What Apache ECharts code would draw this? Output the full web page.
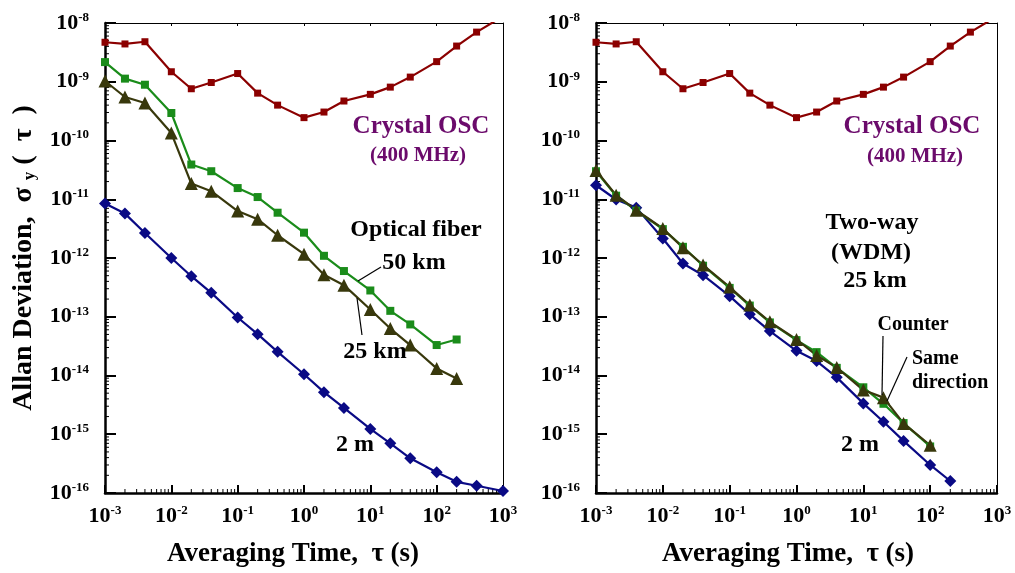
<!DOCTYPE html>
<html>
<head>
<meta charset="utf-8">
<script src="https://cdn.jsdelivr.net/npm/echarts@6/dist/echarts.min.js"></script>
<style>
  html, body { margin: 0; padding: 0; background: #fff; }
  #chart { width: 1015px; height: 573px; }
</style>
</head>
<body>
<div id="chart"></div>
<script>
// averaging times (s)
var tauFull = [1e-3, 2e-3, 4e-3, 1e-2, 2e-2, 4e-2, 0.1, 0.2, 0.4, 1, 2, 4, 10, 20, 40, 100, 200, 400, 1000];
var tau200 = tauFull.slice(0, 17);
var tau100 = tauFull.slice(0, 16);

// crystal oscillator (same on both panels)
var crystal = [4.7e-9, 4.4e-9, 4.8e-9, 1.48e-9, 7.6e-10, 9.7e-10, 1.38e-9, 6.4e-10, 4.0e-10, 2.45e-10,
  3.05e-10, 4.7e-10, 6.1e-10, 8.1e-10, 1.2e-9, 2.2e-9, 4.05e-9, 7.0e-9, 1.3e-8];

// left panel: optical fiber
var fiber50 = [2.16e-9, 1.13e-9, 8.9e-10, 2.94e-10, 3.9e-11, 3.0e-11, 1.55e-11, 1.09e-11, 5.9e-12, 2.7e-12,
  1.09e-12, 6.0e-13, 2.8e-13, 1.26e-13, 7.4e-14, 3.3e-14, 4.1e-14];
var fiber25 = [1.03e-9, 5.5e-10, 4.35e-10, 1.34e-10, 1.85e-11, 1.37e-11, 6.3e-12, 4.57e-12, 2.44e-12, 1.16e-12,
  5.2e-13, 3.45e-13, 1.33e-13, 6.3e-14, 3.3e-14, 1.32e-14, 8.9e-15];
var ref2mL = [8.45e-12, 5.7e-12, 2.67e-12, 1.0e-12, 4.9e-13, 2.55e-13, 9.7e-14, 5.05e-14, 2.53e-14, 1.05e-14,
  5.2e-15, 2.8e-15, 1.23e-15, 7.0e-16, 3.9e-16, 2.25e-16, 1.55e-16, 1.33e-16, 1.08e-16];

// right panel: two-way (WDM) 25 km
var counter = [3.1e-11, 1.17e-11, 6.5e-12, 3.18e-12, 1.5e-12, 7.6e-13, 3.2e-13, 1.58e-13, 8.2e-14, 4.1e-14,
  2.2e-14, 1.37e-14, 5.65e-15, 4.2e-15, 1.53e-15, 6.5e-16];
var sameDir = [3.0e-11, 1.15e-11, 6.4e-12, 3.1e-12, 1.55e-12, 7.4e-13, 3.1e-13, 1.55e-13, 8.0e-14, 4.0e-14,
  2.5e-14, 1.35e-14, 6.3e-15, 3.3e-15, 1.55e-15, 6.2e-16];
var ref2mR = [1.73e-11, 9.9e-12, 7.2e-12, 2.15e-12, 8.05e-13, 5.1e-13, 2.24e-13, 1.1e-13, 5.7e-14, 2.63e-14,
  1.76e-14, 9.3e-15, 3.35e-15, 1.63e-15, 7.7e-16, 3.0e-16, 1.6e-16];

// axis ranges and minor tick positions
var xMin = 1e-3, xMax = 1e3, yMin = 1e-16, yMax = 1e-8;
var minorX = [];
for (var e = -3; e < 3; e++) for (var k = 2; k <= 9; k++) minorX.push(k * Math.pow(10, e));
var minorY = [];
for (var e2 = -16; e2 < -8; e2++) for (var k2 = 2; k2 <= 9; k2++) minorY.push(k2 * Math.pow(10, e2));

var FONT = '"Liberation Serif", "DejaVu Serif", serif';

function pairs(xs, ys) {
  return ys.map(function (v, i) { return [xs[i], v]; });
}

function expLabel(v) {
  var p = Math.round(Math.log10(v));
  return '{b|10}{s|' + p + '}';
}

var labelRich = {
  b: { fontSize: 22, fontWeight: 'bold', fontFamily: FONT, color: '#000', lineHeight: 24 },
  s: { fontSize: 13, fontWeight: 'bold', fontFamily: FONT, color: '#000', verticalAlign: 'top', lineHeight: 12 }
};

function xAx(gi, show) {
  return {
    type: 'log', logBase: 10, gridIndex: gi, min: xMin, max: xMax, splitNumber: 6,
    position: show ? 'bottom' : 'top',
    axisLine: { show: true, onZero: false, lineStyle: { color: '#000', width: show ? 2.5 : 1 } },
    axisTick: { show: true, inside: true, length: show ? 8 : 3, lineStyle: { color: '#000', width: show ? 2 : 1 } },
    axisLabel: { show: show, margin: 11, formatter: expLabel, rich: labelRich },
    splitLine: { show: false }
  };
}

function yAx(gi, show) {
  return {
    type: 'log', logBase: 10, gridIndex: gi, min: yMin, max: yMax, splitNumber: 8,
    position: show ? 'left' : 'right',
    axisLine: { show: true, onZero: false, lineStyle: { color: '#000', width: show ? 2.5 : 1 } },
    axisTick: { show: show, inside: true, length: 11, lineStyle: { color: '#000', width: 2 } },
    axisLabel: { show: show, margin: 16, formatter: expLabel, rich: labelRich },
    splitLine: { show: false }
  };
}

function lineSeries(name, xi, data, color, symbol, size) {
  return {
    name: name, type: 'line', xAxisIndex: xi, yAxisIndex: xi, data: data,
    symbol: symbol, symbolSize: size, showSymbol: true, clip: true,
    lineStyle: { color: color, width: 2.2 }, itemStyle: { color: color },
    silent: true, animation: false, z: 3
  };
}

function minorTickSeries(xi) {
  var data = minorX.map(function (v) { return [v, yMin, 0]; })
    .concat(minorY.map(function (v) { return [xMin, v, 1]; }));
  return {
    type: 'custom', xAxisIndex: xi, yAxisIndex: xi, data: data, silent: true, animation: false, clip: false, z: 2,
    renderItem: function (params, api) {
      var p = api.coord([api.value(0), api.value(1)]);
      var vert = api.value(2) === 0;
      return {
        type: 'line',
        shape: vert ? { x1: p[0], y1: p[1], x2: p[0], y2: p[1] - 4 } : { x1: p[0], y1: p[1], x2: p[0] + 4, y2: p[1] },
        style: { stroke: '#000', lineWidth: 1 }
      };
    }
  };
}

function txt(x, y, s, size, color, align) {
  return {
    type: 'text', x: x, y: y, z: 10,
    style: { text: s, fontSize: size, fontWeight: 'bold', fontFamily: FONT, fill: color || '#000', align: align || 'center', verticalAlign: 'middle' }
  };
}
function seg(x1, y1, x2, y2) {
  return { type: 'line', z: 10, shape: { x1: x1, y1: y1, x2: x2, y2: y2 }, style: { stroke: '#000', lineWidth: 1.2 } };
}

var RED = '#8b0000', GREEN = '#1a8c1a', OLIVE = '#38380c', NAVY = '#0a0a85', PURPLE = '#6b0a6b';

var chart = echarts.init(document.getElementById('chart'), null, { renderer: 'canvas' });
chart.setOption({
  backgroundColor: '#fff',
  animation: false,
  grid: [
    { left: 105, top: 23, width: 398, height: 470 },
    { left: 596, top: 23, width: 401, height: 470 }
  ],
  xAxis: [xAx(0, true), xAx(1, true), xAx(0, false), xAx(1, false)],
  yAxis: [yAx(0, true), yAx(1, true), yAx(0, false), yAx(1, false)],
  series: [
    lineSeries('Crystal OSC', 0, pairs(tauFull, crystal), RED, 'rect', 7),
    lineSeries('50 km', 0, pairs(tau200, fiber50), GREEN, 'rect', 8),
    lineSeries('25 km', 0, pairs(tau200, fiber25), OLIVE, 'triangle', 13),
    lineSeries('2 m', 0, pairs(tauFull, ref2mL), NAVY, 'diamond', 12),
    minorTickSeries(0),
    lineSeries('Crystal OSC', 1, pairs(tauFull, crystal), RED, 'rect', 7),
    lineSeries('2 m', 1, pairs(tau200, ref2mR), NAVY, 'diamond', 12),
    lineSeries('Same direction', 1, pairs(tau100, sameDir), GREEN, 'rect', 8),
    lineSeries('Counter', 1, pairs(tau100, counter), OLIVE, 'triangle', 13),
    minorTickSeries(1)
  ],
  graphic: [
    // axis titles
    {
      type: 'text', x: 24, y: 258, rotation: Math.PI / 2, z: 10,
      style: {
        text: 'Allan Deviation,  \u03c3 {sub|y} (  \u03c4  )', fontSize: 28, fontWeight: 'bold', fontFamily: FONT, fill: '#000',
        align: 'center', verticalAlign: 'middle',
        rich: { sub: { fontSize: 17, fontWeight: 'bold', fontFamily: FONT, fill: '#000', verticalAlign: 'bottom', lineHeight: 18 } }
      }
    },
    txt(293, 554, 'Averaging Time,  \u03c4 (s)', 27),
    txt(788, 554, 'Averaging Time,  \u03c4 (s)', 27),
    // left panel notes
    txt(421, 127, 'Crystal OSC', 25, PURPLE),
    txt(418, 156, '(400 MHz)', 21, PURPLE),
    txt(416, 230, 'Optical fiber', 24),
    txt(414, 263, '50 km', 24),
    seg(381, 267, 358, 281),
    txt(375, 352, '25 km', 24),
    seg(362, 335, 357, 298),
    txt(355, 445, '2 m', 24),
    // right panel notes
    txt(912, 127, 'Crystal OSC', 25, PURPLE),
    txt(915, 157, '(400 MHz)', 21, PURPLE),
    txt(872, 223, 'Two-way', 24),
    txt(871, 253, '(WDM)', 24),
    txt(875, 281, '25 km', 24),
    txt(913, 325, 'Counter', 20),
    seg(883, 336, 882, 395),
    txt(912, 359, 'Same', 20, '#000', 'left'),
    txt(912, 383, 'direction', 20, '#000', 'left'),
    seg(907, 357, 887, 401),
    txt(860, 445, '2 m', 24)
  ]
});
</script>
</body>
</html>
